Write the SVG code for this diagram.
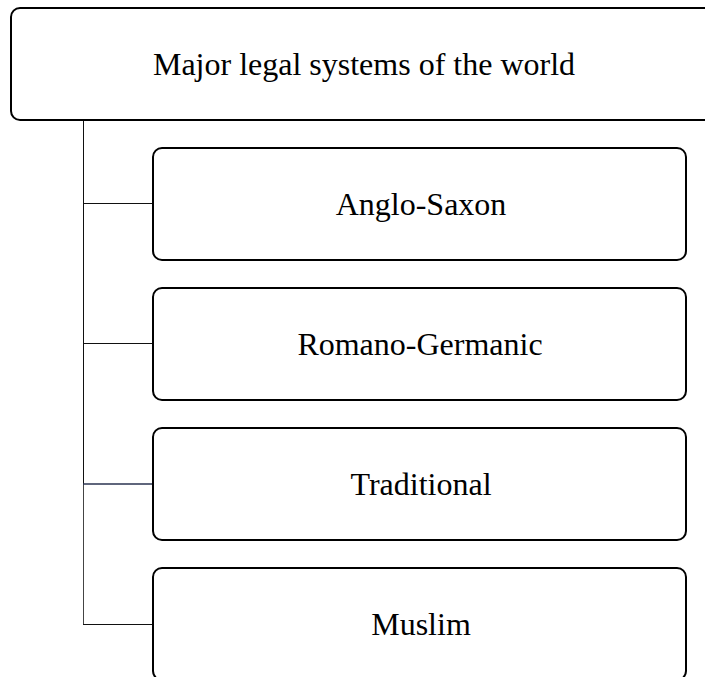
<svg xmlns="http://www.w3.org/2000/svg" width="705" height="677" viewBox="0 0 705 677">
<style>
.box{fill:#fff;stroke:#000;stroke-width:2}
.lbl{font-family:"Liberation Serif","Times New Roman",serif;font-size:32px;fill:#000;text-anchor:middle}
.conn{fill:none;stroke:#111;stroke-width:1}
</style>
<rect width="705" height="677" fill="#fff"/>
<g id="connectors">
<line class="conn" x1="83.5" y1="120" x2="83.5" y2="484"/>
<line x1="83.5" y1="484" x2="83.5" y2="624" stroke="#444" stroke-width="1"/>
<line class="conn" x1="83" y1="203.5" x2="153" y2="203.5"/>
<line class="conn" x1="83" y1="343.5" x2="153" y2="343.5"/>
<line x1="83" y1="484" x2="153" y2="484" stroke="#2a3350" stroke-width="1.5"/>
<line class="conn" x1="83" y1="624.5" x2="153" y2="624.5"/>
</g>
<g id="root">
<rect class="box" x="11" y="8" width="710" height="112" rx="9"/>
<text class="lbl" x="364" y="75">Major legal systems of the world</text>
</g>
<g id="anglo-saxon">
<rect class="box" x="153" y="148" width="533" height="112" rx="9"/>
<text class="lbl" x="421" y="215">Anglo-Saxon</text>
</g>
<g id="romano-germanic">
<rect class="box" x="153" y="288" width="533" height="112" rx="9"/>
<text class="lbl" x="420" y="355">Romano-Germanic</text>
</g>
<g id="traditional">
<rect class="box" x="153" y="428" width="533" height="112" rx="9"/>
<text class="lbl" x="421" y="495">Traditional</text>
</g>
<g id="muslim">
<rect class="box" x="153" y="568" width="533" height="112" rx="9"/>
<text class="lbl" x="421" y="635">Muslim</text>
</g>
</svg>
